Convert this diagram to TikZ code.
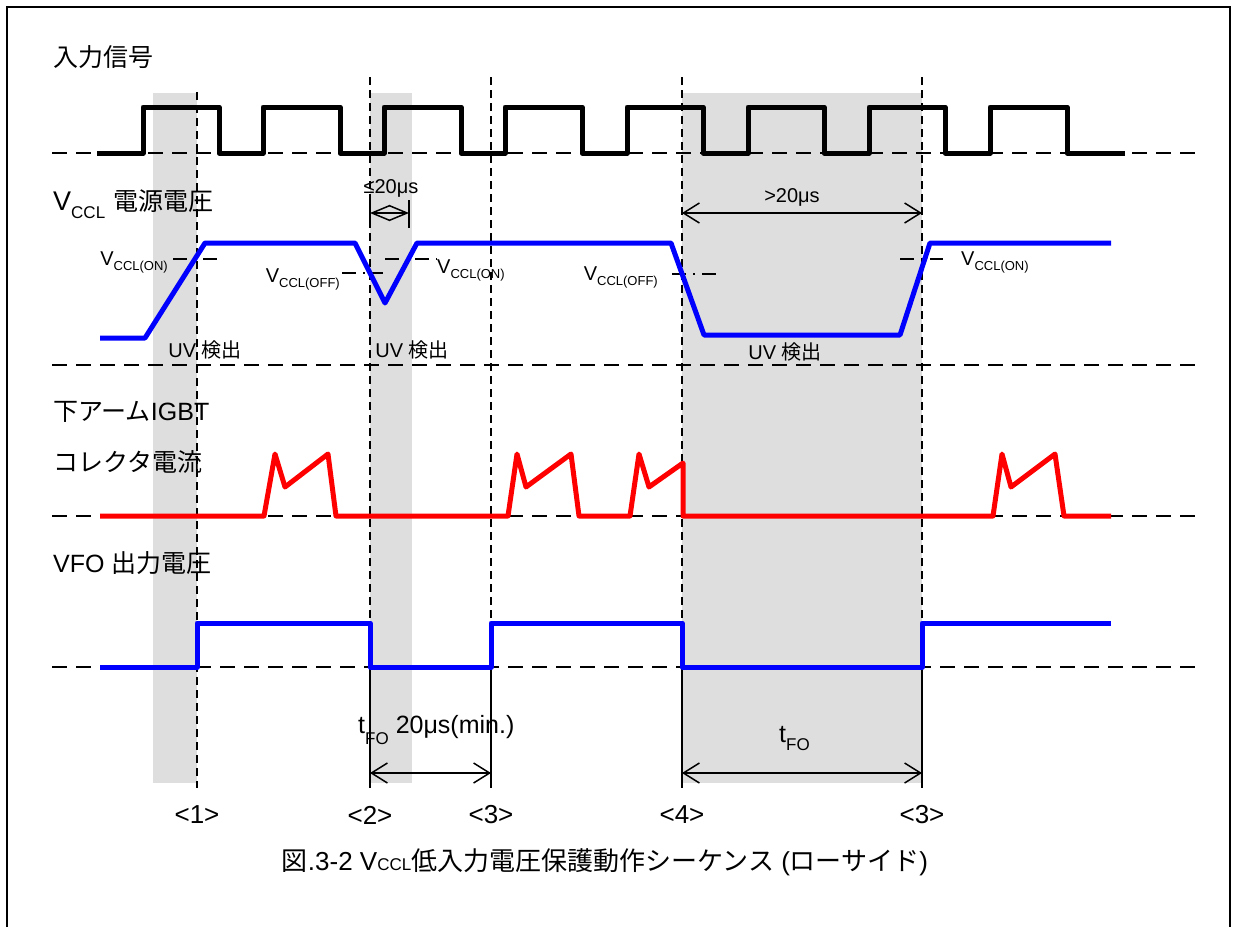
\documentclass[tikz,border=0pt]{standalone}
\usepackage{fontspec}
\setmainfont{Liberation Sans}
\newfontfamily\jp{Noto Sans CJK JP}
\usetikzlibrary{arrows.meta}
\newcommand\fs[1]{\fontsize{#1}{#1}\selectfont}
\newcommand\lsub[3]{\raisebox{-#3pt}{\fs{#2}#1}}
\tikzset{
  sig/.style={line width=5pt, line join=round},
  baseln/.style={line width=1.5pt, dash pattern=on 15pt off 9pt},
  vdash/.style={line width=1.5pt, dash pattern=on 8pt off 5pt},
  thr/.style={line width=1.5pt, dash pattern=on 14pt off 7pt on 2pt off 7pt},
  shadebox/.style={fill=black!13, draw=none},
  dimarrow/.style={line width=1.5pt, {Straight Barb[length=16pt,width=20pt]}-{Straight Barb[length=16pt,width=20pt]}},
  lbl/.style={inner sep=0pt, font=\fs{25}},
  small/.style={inner sep=0pt, font=\fs{20}},
  marker/.style={inner sep=0pt, font=\fs{26}},
}
\begin{document}
\begin{tikzpicture}[x=1pt,y=-1pt]
\useasboundingbox (0,0) rectangle (1234,927);
\fill[white] (0,0) rectangle (1234,927);
% frame
\draw[line width=2.5pt] (7,927) -- (7,7) -- (1230,7) -- (1230,927);
% shaded intervals
\fill[shadebox] (153,93) rectangle (197,783);
\fill[shadebox] (370,93) rectangle (412,783);
\fill[shadebox] (682,93) rectangle (922,783);
% baselines
\foreach \yy in {153,365,516,667} \draw[baseln] (52,\yy) -- (1202,\yy);
% vertical marker lines
\draw[vdash] (197,92) -- (197,788);
\foreach \xx in {370,491,682,922} {
  \draw[vdash] (\xx,77) -- (\xx,670);
  \draw[line width=1.5pt] (\xx,670) -- (\xx,788);
}
% <=20us dimension
\draw[line width=1.5pt] (370,200) -- (370,228);
\draw[line width=1.5pt] (409,200) -- (409,228);
\coordinate (d1a) at (370,213); \coordinate (d1b) at (409,213);
\draw[line width=1.5pt, {Straight Barb[length=18pt,width=15pt]}-{Straight Barb[length=18pt,width=15pt]}] (d1a) -- (d1b);
\node[small] (t20a) at (391,188) {≤20μs};
% >20us dimension
\coordinate (d2a) at (682,213); \coordinate (d2b) at (922,213);
\draw[dimarrow] (d2a) -- (d2b);
\node[small] (t20b) at (792,197) {>20μs};
% threshold lines
\draw[thr] (173,259) -- (218,259);
\draw[thr] (342,273) -- (383,273);
\draw[thr] (385,259) -- (437,259);
\draw[thr] (672,274) -- (717,274);
\draw[thr] (900,259) -- (943,259);
% input signal
\draw[sig] (97,153) -- (143,153) -- (143,107) -- (219,107) -- (219,153) -- (263,153) -- (263,107) -- (340,107) -- (340,153) -- (384,153) -- (384,107) -- (461,107) -- (461,153) -- (505,153) -- (505,107) -- (582,107) -- (582,153) -- (627,153) -- (627,107) -- (703,107) -- (703,153) -- (748,153) -- (748,107) -- (824,107) -- (824,153) -- (869,153) -- (869,107) -- (945,107) -- (945,153) -- (990,153) -- (990,107) -- (1067,107) -- (1067,153) -- (1125,153);
% VCCL
\draw[sig, blue] (100,338) -- (145,338) -- (205,243) -- (355,243) -- (385,303) -- (417,243) -- (671,243) -- (704,335) -- (900,335) -- (930,243) -- (1111,243);
% collector current
\draw[sig, red] (100,516) -- (264,516) -- (275,454) -- (285,487) -- (328,454) -- (336,516) -- (508,516) -- (517,454) -- (526,487) -- (571,454) -- (579,516) -- (630,516) -- (639,454) -- (649,487) -- (683,463) -- (683,516) -- (993,516) -- (1002,454) -- (1011,487) -- (1055,454) -- (1064,516) -- (1111,516);
% VFO
\draw[sig, blue] (100,667) -- (197,667) -- (197,623) -- (370,623) -- (370,667) -- (491,667) -- (491,623) -- (682,623) -- (682,667) -- (922,667) -- (922,623) -- (1111,623);
% section labels
\node[lbl, anchor=west] (lin) at (53,57) {\jp 入力信号};
\node[lbl, anchor=base west] (lvc) at (53,210) {\fs{27}V\lsub{CCL}{17}{8}\hspace{8pt}{\jp\fs{25}電源電圧}};
\node[lbl, anchor=west] (ligbt) at (53,412) {{\jp 下アーム}IGBT};
\node[lbl, anchor=west] (lic) at (53,462) {\jp コレクタ電流};
\node[lbl, anchor=west] (lvfo) at (53,563) {VFO {\jp 出力電圧}};
% threshold labels
\node[small, anchor=base east] (on1) at (168,265) {V\lsub{CCL(ON)}{13}{5}};
\node[small, anchor=base east] (off1) at (340,282) {V\lsub{CCL(OFF)}{13}{5}};
\node[small, anchor=base west] (on2) at (437,273) {V\lsub{CCL(ON)}{13}{5}};
\node[small, anchor=base east] (off2) at (658,280) {V\lsub{CCL(OFF)}{13}{5}};
\node[small, anchor=base west] (on3) at (961,265) {V\lsub{CCL(ON)}{13}{5}};
% UV detect labels
\node[small] (uv1) at (205,350) {UV {\jp 検出}};
\node[small] (uv2) at (412,350) {UV {\jp 検出}};
\node[small] (uv3) at (785,352) {UV {\jp 検出}};
% tFO
\node[lbl, anchor=base west] (tfo1) at (358,733) {t\lsub{FO}{17}{11}\hspace{7pt}20μs(min.)};
\coordinate (f1a) at (370,773); \coordinate (f1b) at (491,773);
\draw[dimarrow] (f1a) -- (f1b);
\node[lbl, anchor=base west] (tfo2) at (779,742) {t\lsub{FO}{17}{8}};
\coordinate (f2a) at (682,773); \coordinate (f2b) at (922,773);
\draw[dimarrow] (f2a) -- (f2b);
% markers
\node[marker] (m1) at (197,815) {<1>};
\node[marker] (m2) at (370,815) {<2>};
\node[marker] (m3) at (491,815) {<3>};
\node[marker] (m4) at (682,815) {<4>};
\node[marker] (m5) at (922,815) {<3>};
% caption
\node[lbl, font=\fs{26}] (cap) at (605,862) {{\jp 図}.3-2 V{\fs{17}CCL}{\jp 低入力電圧保護動作シーケンス} ({\jp ローサイド})};
\end{tikzpicture}
\end{document}
